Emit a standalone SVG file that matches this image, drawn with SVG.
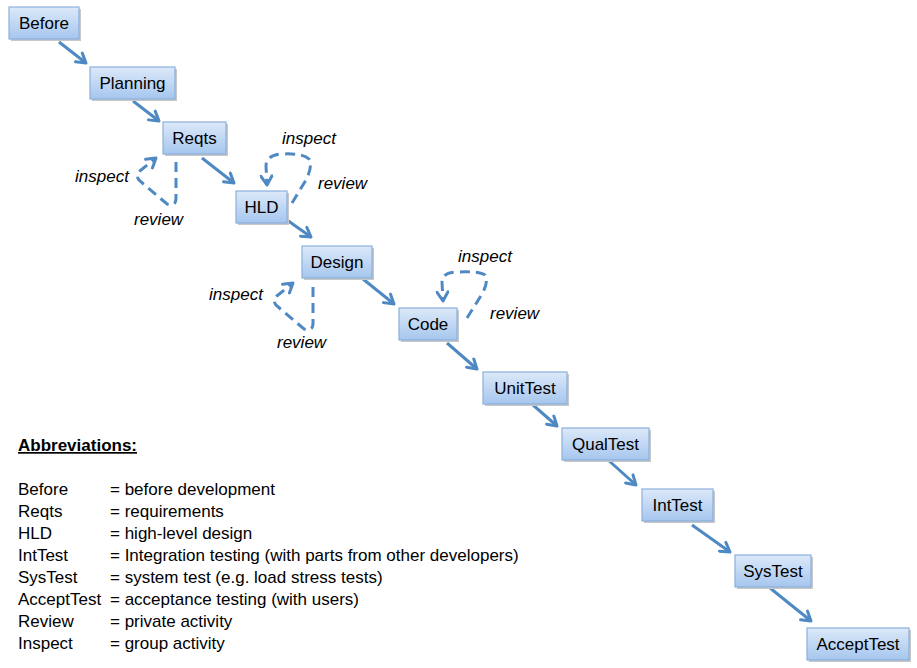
<svg xmlns="http://www.w3.org/2000/svg" width="917" height="668" viewBox="0 0 917 668">
<style>
.box{fill:url(#g);stroke:#8bb0dc;stroke-width:1.2}
.sh{fill:#c8c8c8}
.lbl{font-family:"Liberation Sans",Arial,sans-serif;font-size:17px;fill:#000;text-anchor:middle}
.ann{font-family:"Liberation Sans",Arial,sans-serif;font-size:17px;font-style:italic;fill:#000}
.txt{font-family:"Liberation Sans",Arial,sans-serif;font-size:17px;fill:#000}
.arr{fill:none;stroke:#4f89c3;stroke-width:3;marker-end:url(#ah)}
.dash{fill:none;stroke:#4f89c3;stroke-width:3;stroke-dasharray:10 6;marker-end:url(#ah)}
</style>
<defs>
<linearGradient id="g" x1="0" y1="0" x2="0" y2="1">
<stop offset="0" stop-color="#dce9f9"/>
<stop offset="1" stop-color="#a6c6ee"/>
</linearGradient>
<marker id="ah" markerUnits="userSpaceOnUse" viewBox="0 0 14 14" refX="11" refY="7" markerWidth="14" markerHeight="14" orient="auto">
<path d="M2,1.5 L11,7 L2,12.5" fill="none" stroke="#4f89c3" stroke-width="3" stroke-linecap="round" stroke-linejoin="round"/>
</marker>
</defs>
<rect width="917" height="668" fill="#fff"/>

<g id="connectors">
<path class="arr" d="M59,42 L86,63"/>
<path class="arr" d="M133,101 L159,121"/>
<path class="arr" d="M202,158 L234,183"/>
<path class="arr" d="M287,220 L311,237"/>
<path class="arr" d="M363,279 L394,304"/>
<path class="arr" d="M447,343 L477,369"/>
<path class="arr" d="M533,405 L557,426"/>
<path class="arr" d="M607,459 L636,485"/>
<path class="arr" d="M692,525 L730,552"/>
<path class="arr" d="M770,588 L811,621"/>
<path class="dash" d="M176,162 L176,198 Q176,207 167,204 L140,181 Q134,175 141,170 L156,158"/>
<path class="dash" d="M292,203 L306,180 Q313,166 309,159 Q303,153 282,154 Q266,155 266,166 L267,185"/>
<path class="dash" d="M313,287 L313,323 Q313,332 304,329 L277,306 Q271,300 278,295 L293,283"/>
<path class="dash" d="M467,318 L482,294 Q489,281 485,275 Q479,271 458,272 Q442,272 442,282 L443,301"/>
</g>

<g id="annotations">
<text class="ann" x="75" y="182">inspect</text>
<text class="ann" x="134" y="225">review</text>
<text class="ann" x="282" y="144">inspect</text>
<text class="ann" x="318" y="189">review</text>
<text class="ann" x="209" y="300">inspect</text>
<text class="ann" x="277" y="348">review</text>
<text class="ann" x="458" y="262">inspect</text>
<text class="ann" x="490" y="319">review</text>
</g>

<g id="n-before"><rect class="sh" x="11" y="9" width="70" height="32"/><rect class="box" x="9" y="7" width="70" height="32"/><text class="lbl" x="44" y="29">Before</text></g>
<g id="n-planning"><rect class="sh" x="92" y="69" width="85" height="32"/><rect class="box" x="90" y="67" width="85" height="32"/><text class="lbl" x="132.5" y="89">Planning</text></g>
<g id="n-reqts"><rect class="sh" x="165" y="124" width="63" height="32"/><rect class="box" x="163" y="122" width="63" height="32"/><text class="lbl" x="194.5" y="144">Reqts</text></g>
<g id="n-hld"><rect class="sh" x="238" y="193" width="51" height="32"/><rect class="box" x="236" y="191" width="51" height="32"/><text class="lbl" x="261.5" y="213">HLD</text></g>
<g id="n-design"><rect class="sh" x="304" y="248" width="70" height="32"/><rect class="box" x="302" y="246" width="70" height="32"/><text class="lbl" x="337" y="268">Design</text></g>
<g id="n-code"><rect class="sh" x="401" y="310" width="58" height="32"/><rect class="box" x="399" y="308" width="58" height="32"/><text class="lbl" x="428" y="330">Code</text></g>
<g id="n-unittest"><rect class="sh" x="485" y="374" width="84" height="32"/><rect class="box" x="483" y="372" width="84" height="32"/><text class="lbl" x="525" y="394">UnitTest</text></g>
<g id="n-qualtest"><rect class="sh" x="564" y="430" width="87" height="32"/><rect class="box" x="562" y="428" width="87" height="32"/><text class="lbl" x="605.5" y="450">QualTest</text></g>
<g id="n-inttest"><rect class="sh" x="644" y="491" width="71" height="32"/><rect class="box" x="642" y="489" width="71" height="32"/><text class="lbl" x="677.5" y="511">IntTest</text></g>
<g id="n-systest"><rect class="sh" x="737" y="557" width="76" height="32"/><rect class="box" x="735" y="555" width="76" height="32"/><text class="lbl" x="773" y="577">SysTest</text></g>
<g id="n-accepttest"><rect class="sh" x="809" y="630" width="102" height="32"/><rect class="box" x="807" y="628" width="102" height="32"/><text class="lbl" x="858" y="650">AcceptTest</text></g>

<g id="legend">
<text class="txt" x="18" y="451" font-weight="bold" text-decoration="underline">Abbreviations:</text>
<text class="txt" x="18" y="495">Before</text><text class="txt" x="110" y="495">= before development</text>
<text class="txt" x="18" y="517">Reqts</text><text class="txt" x="110" y="517">= requirements</text>
<text class="txt" x="18" y="539">HLD</text><text class="txt" x="110" y="539">= high-level design</text>
<text class="txt" x="18" y="561">IntTest</text><text class="txt" x="110" y="561">= Integration testing (with parts from other developers)</text>
<text class="txt" x="18" y="583">SysTest</text><text class="txt" x="110" y="583">= system test (e.g. load stress tests)</text>
<text class="txt" x="18" y="605">AcceptTest</text><text class="txt" x="110" y="605">= acceptance testing (with users)</text>
<text class="txt" x="18" y="627">Review</text><text class="txt" x="110" y="627">= private activity</text>
<text class="txt" x="18" y="649">Inspect</text><text class="txt" x="110" y="649">= group activity</text>
</g>
</svg>
